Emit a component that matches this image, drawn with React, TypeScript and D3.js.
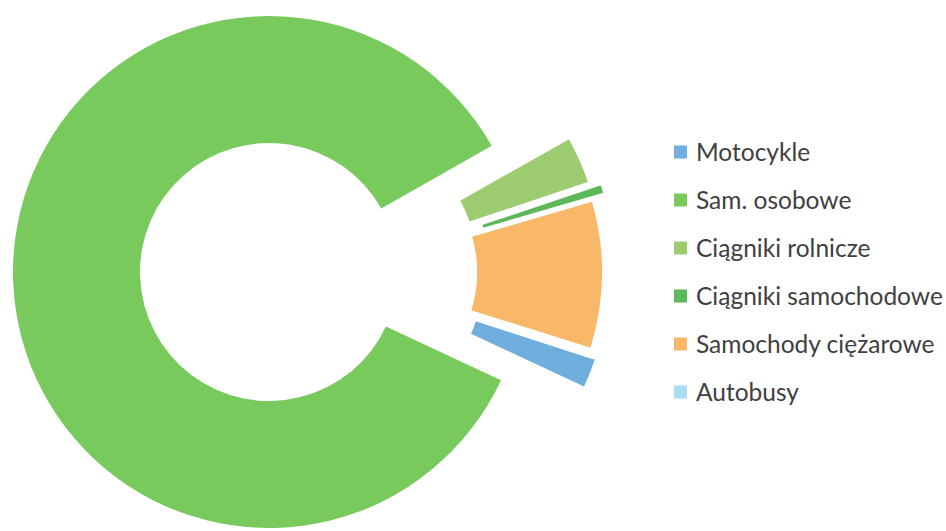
import React from "react";
import * as d3 from "d3";

const categories = [
  "Motocykle",
  "Sam. osobowe",
  "Ciągniki rolnicze",
  "Ciągniki samochodowe",
  "Samochody ciężarowe",
  "Autobusy",
];
const shares = [1.94, 84.86, 3.06, 0.62, 9.38, 0.14];
const colors = ["#6FAEDD", "#79CA5D", "#9CCB70", "#5DB85A", "#F8B868", "#A9DDF1"];

const W = 946;
const H = 531;
const CX = 269;
const CY = 272;
const R_OUT = 256;
const R_IN = 129;
const START_DEG = 108;

// explosion distance per slice (the big slice stays in place)
const explodeFor = (name: string) =>
  name === "Sam. osobowe"
    ? 0
    : name === "Motocykle"
    ? 84
    : name === "Ciągniki samochodowe"
    ? 90
    : 78;

export default function App() {
  const data = categories.map((c, i) => ({ name: c, value: shares[i], color: colors[i] }));
  const start = (START_DEG * Math.PI) / 180;
  const pie = d3
    .pie<any>()
    .sort(null)
    .value((d) => d.value)
    .startAngle(start)
    .endAngle(start + 2 * Math.PI);
  const arcs = pie(data);
  const arcGen = d3.arc<any>().innerRadius(R_IN).outerRadius(R_OUT);

  const legendY = d3.scalePoint<string>().domain(categories).range([152, 392]);
  const TAU = 2 * Math.PI;

  return (
    <svg
      width={W}
      height={H}
      style={{ position: "absolute", left: 0, top: 0, background: "#fff" }}
    >
      <rect width={W} height={H} fill="#ffffff" />
      <g transform={`translate(${CX},${CY})`}>
        {arcs.map((a, i) => {
          const mid = (a.startAngle + a.endAngle) / 2;
          const off = explodeFor(a.data.name);
          // angle below the horizontal-right axis, normalised to (-PI, PI]
          let below = (mid - Math.PI / 2) % TAU;
          if (below > Math.PI) below -= TAU;
          if (below <= -Math.PI) below += TAU;
          const dir = below * 0.25;
          const dx = Math.cos(dir) * off;
          const dy = Math.sin(dir) * off;
          return (
            <path
              key={i}
              d={arcGen(a) || ""}
              fill={a.data.color}
              stroke="#ffffff"
              strokeWidth={off > 0 ? 2.2 : 0}
              transform={`translate(${dx},${dy})`}
            />
          );
        })}
      </g>
      <g>
        {data.map((d, i) => {
          const y = legendY(d.name) as number;
          return (
            <g key={i} transform={`translate(674,${y})`}>
              <rect x={0} y={-6.5} width={13} height={13} fill={d.color} />
              <text
                x={22}
                y={0}
                dy="0.35em"
                fontFamily="Lato, 'Open Sans', sans-serif"
                fontSize={24.5}
                fill="#404040"
              >
                {d.name}
              </text>
            </g>
          );
        })}
      </g>
    </svg>
  );
}
